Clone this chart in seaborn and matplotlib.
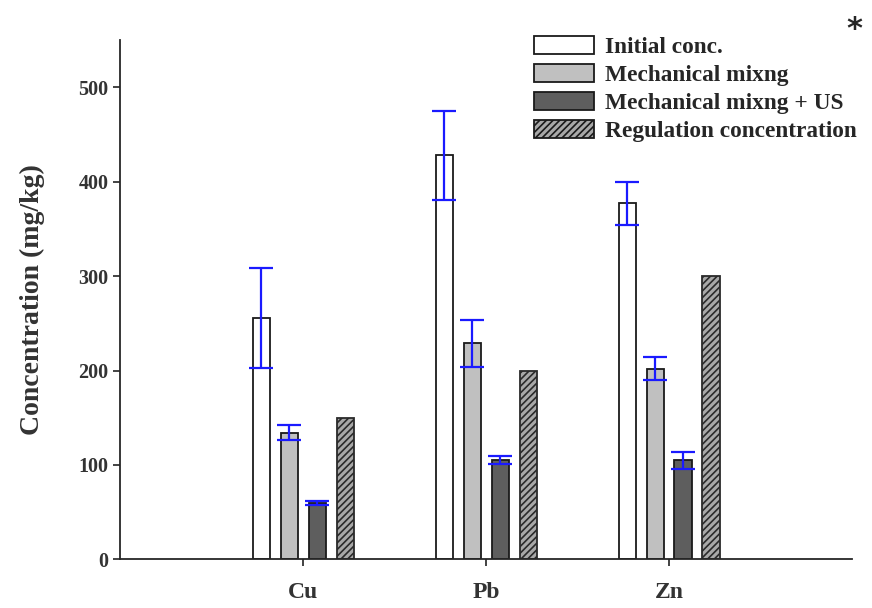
import numpy as np
import pandas as pd
import matplotlib
matplotlib.use("Agg")
import matplotlib.pyplot as plt
import seaborn as sns

metals = ["Cu", "Pb", "Zn"]
series = ["Initial conc.", "Mechanical mixng", "Mechanical mixng + US", "Regulation concentration"]
initial = [256, 428, 377]
initial_err = [53, 47, 23]
mech = [134, 229, 202]
mech_err = [8, 25, 12]
mech_us = [60, 105, 105]
mech_us_err = [2, 4, 9]
regulation = [150, 200, 300]

colors = ["white", "#c0c0c0", "#5e5e5e", "#a8a8a8"]

sns.set_theme(style="ticks")
plt.rcParams["font.family"] = ["Liberation Serif", "DejaVu Serif"]
plt.rcParams["font.weight"] = "bold"
plt.rcParams["hatch.color"] = "#3a3a3a"
plt.rcParams["hatch.linewidth"] = 1.2

values = [initial, mech, mech_us, regulation]
df = pd.DataFrame({
    "metal": np.tile(metals, len(series)),
    "series": np.repeat(series, len(metals)),
    "value": np.concatenate(values),
})

fig, ax = plt.subplots(figsize=(8.72, 6.08), dpi=100)
sns.barplot(data=df, x="metal", y="value", hue="series", order=metals,
            hue_order=series, palette=colors, width=0.612, gap=0.39,
            edgecolor="#1a1a1a", linewidth=1.3, errorbar=None, ax=ax)

# seaborn adds patches hue by hue
bars = [p for p in ax.patches if p.get_height() > 0][:len(series) * len(metals)]
for p in bars[3 * len(metals):]:
    p.set_hatch("/////")
    p.set_edgecolor("#2a2a2a")

errs = [initial_err, mech_err, mech_us_err]
for i, err in enumerate(errs):
    group = bars[i * len(metals):(i + 1) * len(metals)]
    xs = [p.get_x() + p.get_width() / 2 for p in group]
    ax.errorbar(xs, values[i], yerr=err, fmt="none", ecolor="#1a1aff",
                elinewidth=1.6, capsize=8.5, capthick=1.6, zorder=5)

ax.set_xlim(-1, 3)
ax.set_ylim(0, 550)
ax.set_yticks([0, 100, 200, 300, 400, 500])
ax.set_xlabel("")
ax.set_ylabel("Concentration (mg/kg)", fontsize=20, fontweight="bold", color="#333333", labelpad=24)
ax.tick_params(axis="both", length=5, width=1.2, colors="#222222")
ax.tick_params(axis="y", labelsize=14.5)
ax.tick_params(axis="x", labelsize=17, pad=11)
for lab in ax.get_xticklabels() + ax.get_yticklabels():
    lab.set_fontweight("bold")
    lab.set_color("#333333")
sns.despine(ax=ax)
ax.spines["left"].set_linewidth(1.3)
ax.spines["bottom"].set_linewidth(1.3)

handles, labels = ax.get_legend_handles_labels()
handles[3].set_hatch("/////")
ax.legend(handles, labels, loc="upper left", bbox_to_anchor=(0.552, 1.025),
          frameon=False, handlelength=2.6, handleheight=0.75,
          labelspacing=0.27, handletextpad=0.45, borderaxespad=0,
          prop={"weight": "bold", "size": 16.8})

fig.text(0.98, 0.952, "*", fontsize=22, fontweight="bold",
         family="DejaVu Sans", ha="center", va="center")

fig.subplots_adjust(left=0.138, right=0.977, bottom=0.08, top=0.934)
fig.savefig("out.png", dpi=100)
